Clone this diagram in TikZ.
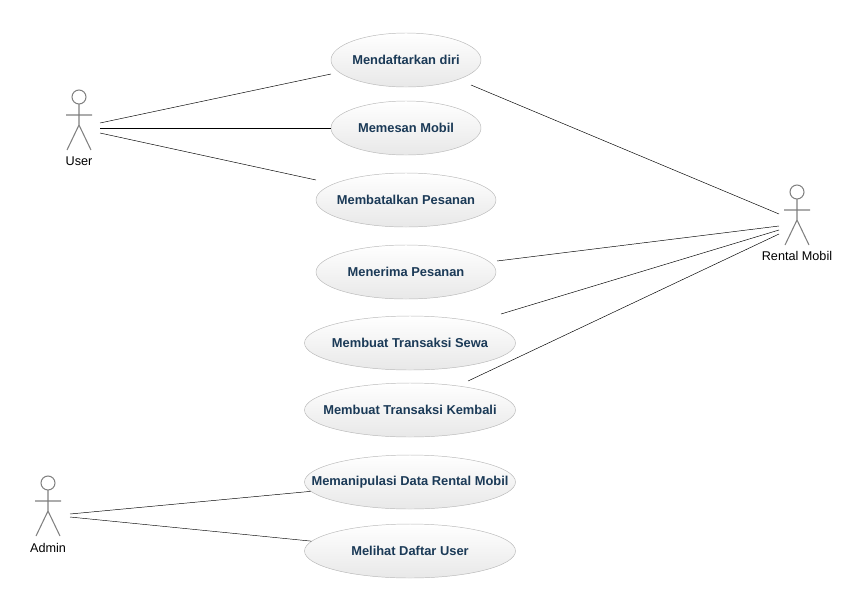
\documentclass[tikz,border=0pt]{standalone}
\usepackage{fontspec}
\setmainfont{Liberation Sans}
\usetikzlibrary{shapes.geometric,calc}
\definecolor{ucText}{HTML}{1B3A57}
\tikzset{
  usecase/.style={ellipse, draw=gray!55, top color=white, bottom color=gray!18,
    minimum width=#1, minimum height=54*0.03cm, inner xsep=-2cm, inner ysep=0pt,
    font=\bfseries\fontsize{11}{13}\selectfont, text=ucText},
  usecase/.default=150*0.03cm,
  actorlbl/.style={font=\fontsize{10.8}{13}\selectfont},
}
\newcommand{\actorfig}[1]{% #1 head centre
  \draw[gray, line width=0.9pt] (#1) circle (7*0.03cm);
  \draw[gray, line width=0.9pt] ($(#1)+(0,7)$) -- ++(0,21) -- ++(-12,25)
    ($(#1)+(0,28)$) -- ++(12,25) ($(#1)+(-13,18)$) -- ++(26,0);
}
\begin{document}
\begin{tikzpicture}[x=0.03cm, y=-0.03cm]
  \useasboundingbox (0,0) rectangle (848,608);

  % actors
  \coordinate (userHead) at (79,97);
  \coordinate (rentHead) at (797,192);
  \coordinate (adminHead) at (48,483);
  \actorfig{userHead}
  \actorfig{rentHead}
  \actorfig{adminHead}
  \node[actorlbl] (user) at (79,161) {User};
  \node[actorlbl] (rent) at (797,256) {Rental Mobil};
  \node[actorlbl] (admin) at (48,548) {Admin};

  % use cases
  \node[usecase] (daftar) at (406,60) {Mendaftarkan diri};
  \node[usecase] (pesan) at (406,128) {Memesan Mobil};
  \node[usecase=180*0.03cm] (batal) at (406,200) {Membatalkan Pesanan};
  \node[usecase=180*0.03cm] (terima) at (406,272) {Menerima Pesanan};
  \node[usecase=211*0.03cm] (sewa) at (410,343) {Membuat Transaksi Sewa};
  \node[usecase=211*0.03cm] (kembali) at (410,410) {Membuat Transaksi Kembali};
  \node[usecase=211*0.03cm] (manip) at (410,482) {Memanipulasi Data Rental Mobil};
  \node[usecase=211*0.03cm] (lihat) at (410,551) {Melihat Daftar User};

  % associations
  \coordinate (u1) at (100,123);
  \coordinate (u2) at (100,128);
  \coordinate (u3) at (100,133);
  \coordinate (r1) at (779,214);
  \coordinate (r2) at (779,226);
  \coordinate (r3) at (779,230);
  \coordinate (r4) at (779,234);
  \coordinate (a1) at (70,514);
  \coordinate (a2) at (70,517);
  \draw (u1) -- (331,74);
  \draw (u2) -- (pesan);
  \draw (u3) -- (316,180);
  \draw (r1) -- (471,85);
  \draw (r2) -- (497,261);
  \draw (r3) -- (501,314);
  \draw (r4) -- (468,381);
  \draw (a1) -- (manip);
  \draw (a2) -- (lihat);
\end{tikzpicture}
\end{document}
